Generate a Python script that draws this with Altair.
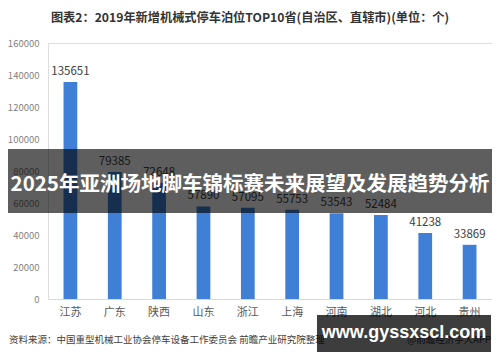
import altair as alt
import pandas as pd

provinces = ["江苏", "广东", "陕西", "山东", "浙江", "上海", "河南", "湖北", "河北", "贵州"]
values = [135651, 79385, 72648, 57890, 57095, 55753, 53543, 52484, 41238, 33869]
y_ticks = [0, 20000, 40000, 60000, 80000, 100000, 120000, 140000, 160000]

title_text = "图表2：2019年新增机械式停车泊位TOP10省(自治区、直辖市)(单位：个)"
source_text = "资料来源：中国重型机械工业协会停车设备工作委员会 前瞻产业研究院整理"
right_text = "@前瞻经济学人APP"
banner_text = "2025年亚洲场地脚车锦标赛未来展望及发展趋势分析"
site_text = "www.gyssxscl.com"

df = pd.DataFrame({"province": provinces, "value": values})

W, H = 444, 256
FONT = "Noto Sans CJK SC"

x_axis = alt.Axis(title=None, labelAngle=0, labelFontSize=11,
                  labelColor="#595959", labelPadding=7, ticks=False,
                  domainColor="#d9d9d9", labelFont=FONT)
y_axis = alt.Axis(title=None, values=y_ticks, grid=False, domain=False,
                  ticks=False, labelFontSize=9.5, labelColor="#7f7f7f",
                  labelPadding=9, labelFont=FONT, format="d",
                  labelOverlap=False)

x_enc = alt.X("province:N", sort=provinces,
              scale=alt.Scale(paddingInner=0.69, paddingOuter=0.35), axis=x_axis)
y_enc = alt.Y("value:Q", scale=alt.Scale(domain=[0, 160000], nice=False), axis=y_axis)

base = alt.Chart(df)
bars = base.mark_bar(color="#3f80d6").encode(x=x_enc, y=y_enc)
labels = base.mark_text(baseline="bottom", dy=-5, fontSize=11.5, color="#404040",
                        font=FONT).encode(
    x=x_enc, y=y_enc, text=alt.Text("value:Q", format="d"))

one = pd.DataFrame({"a": [0]})
ann = alt.Chart(one)

title = ann.mark_text(fontSize=12.2, fontWeight="bold", color="#333333", font=FONT,
                      align="center", baseline="middle").encode(
    x=alt.value(202), y=alt.value(-25), text=alt.value(title_text))
source = ann.mark_text(fontSize=9.5, color="#404040", font=FONT, align="left",
                       baseline="middle").encode(
    x=alt.value(-39), y=alt.value(297), text=alt.value(source_text))
right = ann.mark_text(fontSize=9.5, color="#404040", font=FONT, align="right",
                      baseline="middle").encode(
    x=alt.value(443), y=alt.value(297), text=alt.value(right_text))

banner = ann.mark_rect(color="black", opacity=0.63).encode(
    x=alt.value(-44), x2=alt.value(449), y=alt.value(106), y2=alt.value(170))
banner_t = ann.mark_text(fontSize=20.5, fontWeight="bold", color="white", font=FONT,
                         align="center", baseline="middle").encode(
    x=alt.value(202), y=alt.value(142), text=alt.value(banner_text))

box = ann.mark_rect(color="black", opacity=0.76).encode(
    x=alt.value(269), x2=alt.value(443), y=alt.value(272), y2=alt.value(309))
box_t = ann.mark_text(fontSize=18, fontWeight="bold", color="white",
                      font="Liberation Sans", align="center", baseline="middle").encode(
    x=alt.value(356), y=alt.value(290), text=alt.value(site_text))

chart = alt.layer(bars, labels, title, source, right, banner, banner_t, box, box_t).properties(
    width=W, height=H,
    autosize=alt.AutoSizeParams(type="none"),
    padding={"left": 40, "top": 35, "right": 0, "bottom": 55},
).configure_view(stroke=None).configure_axis(labelOverlap=False).configure(background="white")

chart.save("out.html", embed_options={"renderer": "svg", "actions": False})
